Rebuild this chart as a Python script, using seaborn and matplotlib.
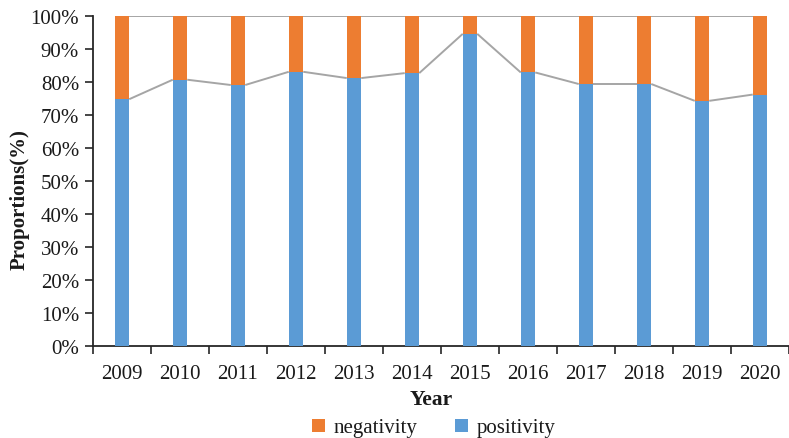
import numpy as np
import pandas as pd
import matplotlib
matplotlib.use("Agg")
import matplotlib.pyplot as plt
import seaborn as sns

# Share of positive and negative items per year (percent)
years = ["2009", "2010", "2011", "2012", "2013", "2014",
         "2015", "2016", "2017", "2018", "2019", "2020"]
positivity = [74.7, 80.6, 79.0, 83.0, 81.1, 82.6, 94.5, 82.8, 79.3, 79.3, 74.2, 76.1]
negativity = [25.3, 19.4, 21.0, 17.0, 18.9, 17.4, 5.5, 17.2, 20.7, 20.7, 25.8, 23.9]
y_ticks = [0, 10, 20, 30, 40, 50, 60, 70, 80, 90, 100]

sns.set_theme(style="white")
plt.rcParams["font.family"] = ["Liberation Serif", "DejaVu Serif"]

ORANGE = "#ED7D31"
BLUE = "#5B9BD5"
GREY = "#A5A5A5"
INK = "#1a1a1a"
BAR_W = 0.25
FS = 15

df = pd.DataFrame({"year": years, "positivity": positivity, "negativity": negativity})
df["total"] = df["positivity"] + df["negativity"]

fig = plt.figure(figsize=(7.89, 4.39), dpi=100)
W, H = 789, 439
ax = fig.add_axes([93 / W, (H - 346.7) / H, (W - 93) / W, 330 / H])

# stacked bars: full height in orange, positive share in blue on top
sns.barplot(data=df, x="year", y="total", color=ORANGE, width=BAR_W,
            saturation=1, linewidth=0, ax=ax, label="negativity", zorder=2)
sns.barplot(data=df, x="year", y="positivity", color=BLUE, width=BAR_W,
            saturation=1, linewidth=0, ax=ax, label="positivity", zorder=3)

# series lines joining the segment tops between neighbouring bars
n = len(years)
for level in (df["positivity"].to_numpy(), df["total"].to_numpy()):
    for i in range(n - 1):
        ax.plot([i + BAR_W / 2, i + 1 - BAR_W / 2], [level[i], level[i + 1]],
                color=GREY, lw=1.4, zorder=1, solid_capstyle="butt")

slot_px = 58.6
ax.set_xlim(-0.5, -0.5 + (W - 93) / slot_px)
ax.set_ylim(0, 100)
ax.set_yticks(y_ticks)
ax.set_yticklabels([f"{t}%" for t in y_ticks])

# category boundaries carry the tick marks, labels sit at the bar centres
ax.set_xticks(np.arange(n))
ax.set_xticks(np.arange(-0.5, n - 0.5 + 1e-9, 1.0), minor=True)
ax.tick_params(axis="x", which="major", length=0, pad=13, labelsize=FS, colors=INK)
ax.tick_params(axis="x", which="minor", length=6, width=1.2, color="#262626", direction="out", bottom=True)
ax.tick_params(axis="y", which="major", length=6, width=1.2, color="#262626", direction="out",
               left=True, pad=4, labelsize=FS, labelcolor=INK)

for side in ("top", "right"):
    ax.spines[side].set_visible(False)
for side in ("left", "bottom"):
    ax.spines[side].set_color("#262626")
    ax.spines[side].set_linewidth(1.3)

ax.set_xlabel("")
ax.set_ylabel("")
fig.text(19.5 / W, 1 - 200 / H, "Proportions(%)", rotation=90, ha="center", va="center",
         fontsize=FS, fontweight="bold", color=INK)
fig.text(431 / W, 1 - 400 / H, "Year", ha="center", va="center",
         fontsize=FS + 0.5, fontweight="bold", color=INK)

leg = ax.legend(loc="center", bbox_to_anchor=(434 / W, 1 - 429 / H),
                bbox_transform=fig.transFigure, ncol=2, frameon=False,
                fontsize=FS, handlelength=0.6, handleheight=0.6,
                handletextpad=0.45, columnspacing=1.8, borderpad=0)
for t in leg.get_texts():
    t.set_color(INK)

fig.savefig("out.png", dpi=100)
